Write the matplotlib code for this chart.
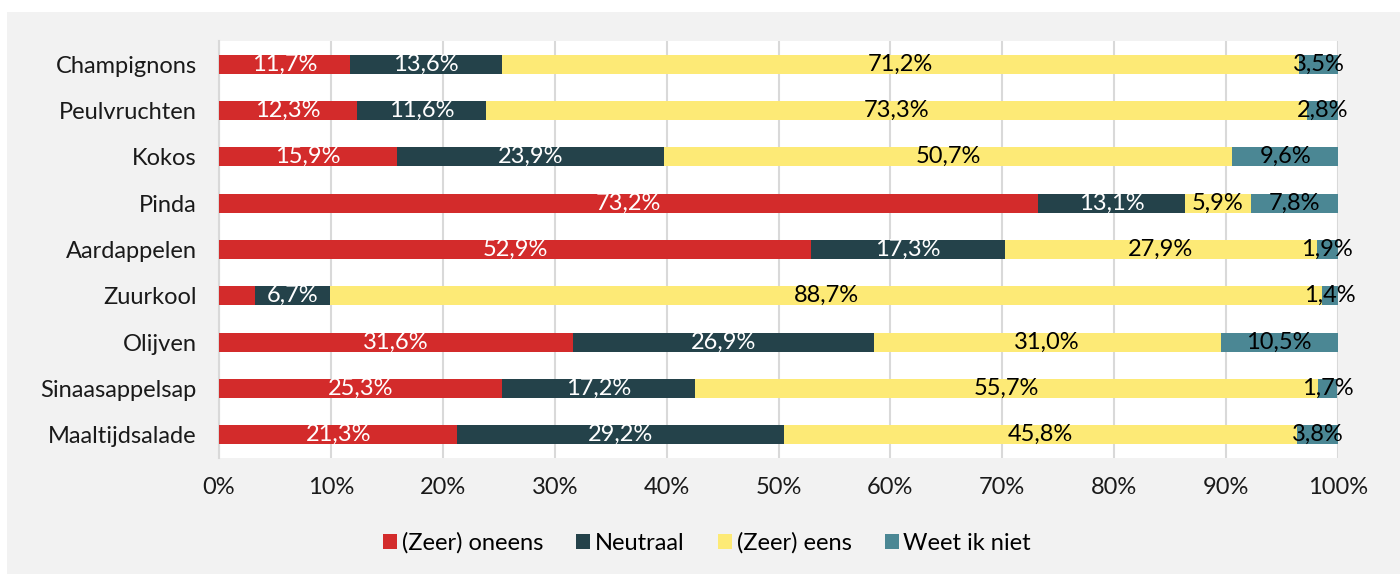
import matplotlib.pyplot as plt
from matplotlib.patches import Rectangle
import numpy as np

plt.rcParams['font.family'] = ['Lato', 'DejaVu Sans']

# Data
categories = ['Champignons', 'Peulvruchten', 'Kokos', 'Pinda', 'Aardappelen',
              'Zuurkool', 'Olijven', 'Sinaasappelsap', 'Maaltijdsalade']
oneens = [11.7, 12.3, 15.9, 73.2, 52.9, 3.2, 31.6, 25.3, 21.3]
neutraal = [13.6, 11.6, 23.9, 13.1, 17.3, 6.7, 26.9, 17.2, 29.2]
eens = [71.2, 73.3, 50.7, 5.9, 27.9, 88.7, 31.0, 55.7, 45.8]
weet_niet = [3.5, 2.8, 9.6, 7.8, 1.9, 1.4, 10.5, 1.7, 3.8]
series_names = ['(Zeer) oneens', 'Neutraal', '(Zeer) eens', 'Weet ik niet']

colors = ['#d32b2b', '#24424a', '#fdea76', '#4b8794']
text_colors = ['white', 'white', 'black', 'black']
fs = 17

fig = plt.figure(figsize=(14, 5.74), dpi=100)
fig.patches.append(Rectangle((7 / 1400, 0), 1, 1 - 12 / 574, transform=fig.transFigure,
                             facecolor='#f2f2f2', edgecolor='none', zorder=-10))
ax = fig.add_axes([219 / 1400, 1 - 458 / 574, 1119 / 1400, 417 / 574])

y = np.arange(len(categories))
left = np.zeros(len(categories))
for vals, name, col, tcol in zip([oneens, neutraal, eens, weet_niet], series_names, colors, text_colors):
    vals = np.array(vals)
    ax.barh(y, vals, left=left, height=0.41, color=col, label=name, zorder=3)
    for yi, l, v in zip(y, left, vals):
        # the tiny red Zuurkool segment carries no label
        if v < 3.3 and col == colors[0]:
            continue
        ax.text(l + v / 2, yi, f'{v:.1f}'.replace('.', ',') + '%', ha='center', va='center',
                color=tcol, fontsize=fs, zorder=4)
    left += vals

ax.set_xlim(0, 100)
ax.set_ylim(len(categories) - 0.5, -0.5)
ax.set_yticks(y)
ax.set_yticklabels(categories, fontsize=fs, color='#1a1a1a')
ax.set_xticks(np.arange(0, 101, 10))
ax.set_xticklabels([f'{t}%' for t in range(0, 101, 10)], fontsize=fs, color='#1a1a1a')
ax.tick_params(axis='y', length=0, pad=16)
ax.tick_params(axis='x', length=0, pad=14)
ax.xaxis.grid(True, color='#d9d9d9', linewidth=1.5, zorder=0)
for s in ['top', 'right', 'bottom']:
    ax.spines[s].set_visible(False)
ax.spines['left'].set_color('#d9d9d9')
ax.spines['left'].set_linewidth(1.5)

fig.legend(loc='center', bbox_to_anchor=(0.505, 1 - 543 / 574), ncol=4, frameon=False,
           fontsize=fs, handlelength=0.6, handleheight=0.6, handletextpad=0.2,
           columnspacing=1.4)

fig.savefig('out.png', dpi=100)
